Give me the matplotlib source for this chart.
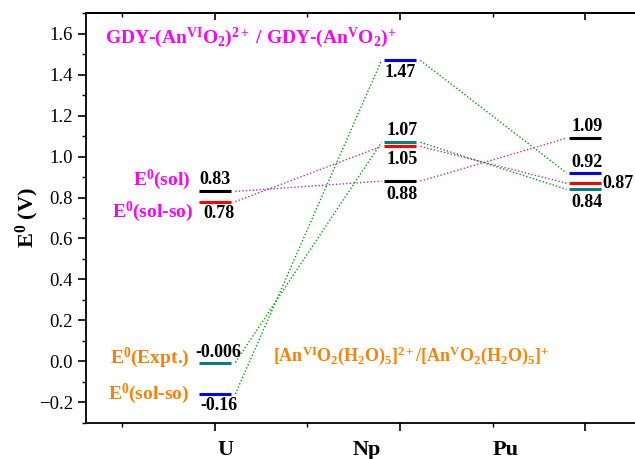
import matplotlib
matplotlib.use("Agg")
import matplotlib.pyplot as plt
from matplotlib.ticker import MultipleLocator

plt.rcParams['font.family'] = 'Liberation Serif'
plt.rcParams['mathtext.fontset'] = 'custom'
plt.rcParams['mathtext.rm'] = 'Liberation Serif:bold'
plt.rcParams['mathtext.it'] = 'Liberation Serif:bold'
plt.rcParams['mathtext.bf'] = 'Liberation Serif:bold'

# data
elements = ['U', 'Np', 'Pu']
x_pos = [1, 2, 3]
e_sol = [0.83, 0.88, 1.09]          # GDY, E0(sol)       black
e_sol_so = [0.78, 1.05, 0.87]       # GDY, E0(sol-so)    red
e_aq_expt = [-0.006, 1.07, 0.84]    # aqueous, E0(Expt.)  teal
e_aq_sol_so = [-0.16, 1.47, 0.92]   # aqueous, E0(sol-so) blue

label_sol = ['0.83', '0.88', '1.09']
label_sol_so = ['0.78', '1.05', '0.87']
label_expt = ['-0.006', '1.07', '0.84']
label_aq_so = ['-0.16', '1.47', '0.92']

fig = plt.figure(figsize=(6.35, 4.59), dpi=100)
ax = fig.add_axes([86 / 635, 1 - 422.7 / 459, 1 - 86 / 635, (422.7 - 13.3) / 459])

half = 0.084
gap_l, gap_r = 0.11, 0.10

series = [
    (e_sol, 'black', '#B030B0'),
    (e_sol_so, 'red', '#B030B0'),
    (e_aq_expt, '#008080', '#00A000'),
    (e_aq_sol_so, 'blue', '#00A000'),
]

for vals, col, lcol in series:
    for x, v in zip(x_pos, vals):
        ax.plot([x - half, x + half], [v, v], color=col, lw=2.2, solid_capstyle='butt', zorder=3)
    for i in range(len(x_pos) - 1):
        ax.plot([x_pos[i] + gap_l, x_pos[i + 1] - gap_r], [vals[i], vals[i + 1]],
                color=lcol, lw=1.0, ls=(0, (1, 1.5)), zorder=2)

# value labels
val_kw = dict(fontsize=13, fontweight='bold', ha='center', va='center', color='black')
dy = 0.058
# U
ax.text(1, e_sol[0] + dy, label_sol[0], **val_kw)
ax.text(1.02, e_sol_so[0] - dy, label_sol_so[0], **val_kw)
ax.text(1.02, e_aq_expt[0] + dy * 0.85, label_expt[0], **val_kw)
ax.text(1.02, e_aq_sol_so[0] - dy, label_aq_so[0], **val_kw)
# Np
ax.text(2, e_aq_sol_so[1] - dy, label_aq_so[1], **val_kw)
ax.text(2.01, e_aq_expt[1] + dy, label_expt[1], **val_kw)
ax.text(2.01, e_sol_so[1] - dy * 1.1, label_sol_so[1], **val_kw)
ax.text(2.01, e_sol[1] - dy * 1.1, label_sol[1], **val_kw)
# Pu
ax.text(3.01, e_sol[2] + dy, label_sol[2], **val_kw)
ax.text(3.01, e_aq_sol_so[2] + dy * 0.85, label_aq_so[2], **val_kw)
ax.text(3.01, e_aq_expt[2] - dy * 1.15, label_expt[2], **val_kw)
ax.text(3.095, e_sol_so[2], label_sol_so[2], fontsize=13, fontweight='bold',
        ha='left', va='center', color='black')

# series names
mag = '#FF00FF'
org = '#FF8000'
name_kw = dict(fontsize=14, fontweight='bold', ha='right', va='center')
ax.text(0.865, 0.885, 'E$^0$(sol)', color=mag, **name_kw)
ax.text(0.885, 0.73, 'E$^0$(sol-so)', color=mag, **name_kw)
ax.text(0.865, 0.018, 'E$^0$(Expt.)', color=org, **name_kw)
ax.text(0.86, -0.157, 'E$^0$(sol-so)', color=org, **name_kw)

ax.text(0.405, 1.555, 'GDY-(An$^{VI}$O$_2$)$^{2+}$ / GDY-(An$^{V}$O$_2$)$^{+}$',
        color=mag, fontsize=14, fontweight='bold', ha='left', va='baseline')
ax.text(1.314, 0.0, '[An$^{VI}$O$_2$(H$_2$O)$_5$]$^{2+}$/[An$^{V}$O$_2$(H$_2$O)$_5$]$^{+}$',
        color=org, fontsize=13, fontweight='bold', ha='left', va='baseline')

ax.set_xlim(0.303, 3.27)
ax.set_ylim(-0.3, 1.7)
ax.set_xticks(x_pos)
ax.set_xticklabels([])
ax.xaxis.set_minor_locator(MultipleLocator(0.5))
ax.yaxis.set_major_locator(MultipleLocator(0.2))
ax.yaxis.set_minor_locator(MultipleLocator(0.1))
ax.tick_params(axis='y', which='major', direction='out', length=6, width=1.2, labelsize=13.5)
ax.tick_params(axis='y', which='minor', direction='out', length=3, width=1.0)
ax.tick_params(axis='x', which='major', direction='out', length=6, width=1.2)
ax.tick_params(axis='x', which='minor', direction='out', length=3, width=1.0)

# ticks on the top spine point inward
sec = ax.secondary_xaxis('top')
sec.set_xticks(x_pos)
sec.set_xticklabels([])
sec.xaxis.set_minor_locator(MultipleLocator(0.5))
sec.tick_params(which='major', direction='in', length=5, width=1.2)
sec.tick_params(which='minor', direction='in', length=3, width=1.0)
sec.spines['top'].set_linewidth(1.3)
for sp in ['left', 'bottom', 'top']:
    ax.spines[sp].set_linewidth(1.3)
ax.spines['right'].set_visible(False)

# element names below the axis
label_x = [1.055, 1.82, 2.57]
for lx, name in zip(label_x, elements):
    ax.text(lx, -0.435, name, fontsize=16, fontweight='bold', ha='center', va='center',
            clip_on=False)

ax.set_ylabel('E$^0$ (V)', fontsize=16, fontweight='bold', labelpad=-1.5)

fig.savefig('out.png', dpi=100)
